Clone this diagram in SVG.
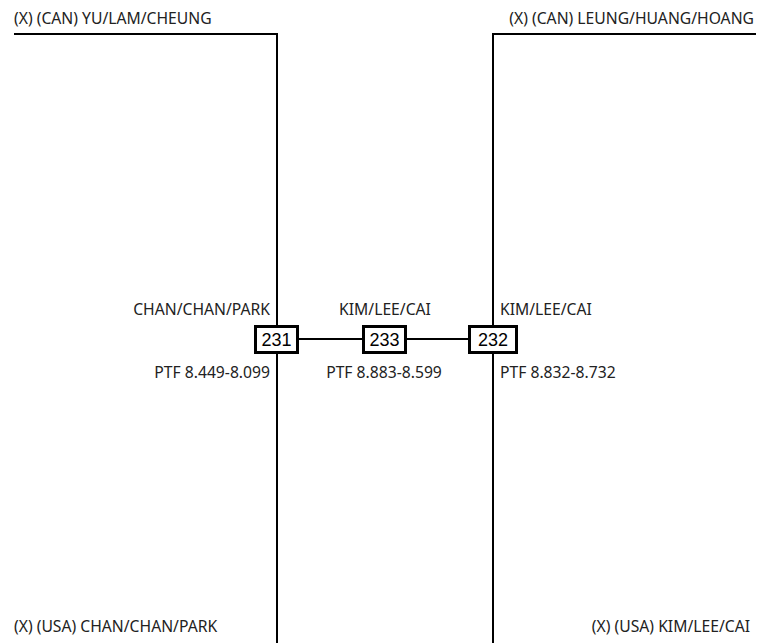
<svg xmlns="http://www.w3.org/2000/svg" width="758" height="643" viewBox="0 0 758 643">
<style>
.lbl{font-family:"Noto Sans","Open Sans",sans-serif;font-size:15.7px;fill:#222}
.num{font-family:"Liberation Sans",Arial,sans-serif;font-size:18px;fill:#000}
.ln{stroke:#000;stroke-width:2;fill:none}
.box{fill:#fff;stroke:#000;stroke-width:3}
</style>
<rect width="758" height="643" fill="#fff"/>
<g id="connectors">
<polyline class="ln" points="14,34 277,34 277,643"/>
<polyline class="ln" points="756,34 493,34 493,643"/>
<line class="ln" x1="299" y1="339" x2="362" y2="339"/>
<line class="ln" x1="407" y1="339" x2="468" y2="339"/>
</g>
<g id="labels">
<text class="lbl" x="14" y="24">(X) (CAN) YU/LAM/CHEUNG</text>
<text class="lbl" x="754" y="24" text-anchor="end">(X) (CAN) LEUNG/HUANG/HOANG</text>
<text class="lbl" x="14" y="632">(X) (USA) CHAN/CHAN/PARK</text>
<text class="lbl" x="750" y="632" text-anchor="end">(X) (USA) KIM/LEE/CAI</text>
</g>
<g id="node231">
<rect class="box" x="255.5" y="326.5" width="42" height="26"/>
<text class="num" x="276.5" y="346" text-anchor="middle">231</text>
<text class="lbl" x="270" y="315" text-anchor="end">CHAN/CHAN/PARK</text>
<text class="lbl" x="270" y="378" text-anchor="end">PTF 8.449-8.099</text>
</g>
<g id="node233">
<rect class="box" x="363.5" y="326.5" width="42" height="26"/>
<text class="num" x="384.5" y="346" text-anchor="middle">233</text>
<text class="lbl" x="385" y="315" text-anchor="middle">KIM/LEE/CAI</text>
<text class="lbl" x="384" y="378" text-anchor="middle">PTF 8.883-8.599</text>
</g>
<g id="node232">
<rect class="box" x="469.5" y="326.5" width="47" height="26"/>
<text class="num" x="493" y="346" text-anchor="middle">232</text>
<text class="lbl" x="500" y="315">KIM/LEE/CAI</text>
<text class="lbl" x="500" y="378">PTF 8.832-8.732</text>
</g>
</svg>
